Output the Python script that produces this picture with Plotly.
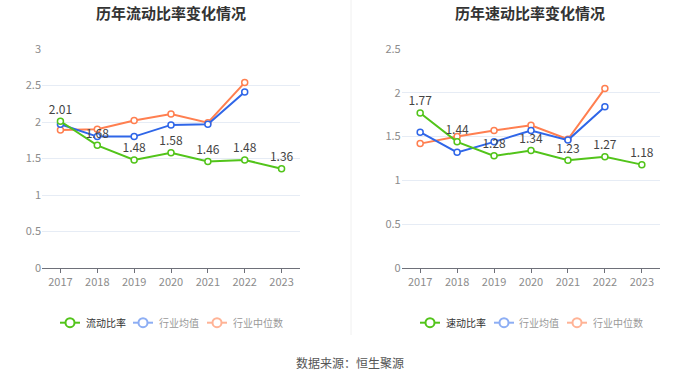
import plotly.graph_objects as go

years = ["2017", "2018", "2019", "2020", "2021", "2022", "2023"]

# 流动比率 chart
current_ratio = [2.01, 1.68, 1.48, 1.58, 1.46, 1.48, 1.36]
current_ind_mean = [1.97, 1.80, 1.80, 1.96, 1.97, 2.41, None]
current_ind_median = [1.89, 1.90, 2.02, 2.11, 1.99, 2.54, None]

# 速动比率 chart
quick_ratio = [1.77, 1.44, 1.28, 1.34, 1.23, 1.27, 1.18]
quick_ind_mean = [1.55, 1.32, 1.44, 1.57, 1.46, 1.84, None]
quick_ind_median = [1.42, 1.50, 1.57, 1.63, 1.47, 2.05, None]

titles = ["历年流动比率变化情况", "历年速动比率变化情况"]
legend_names_left = ["流动比率", "行业均值", "行业中位数"]
legend_names_right = ["速动比率", "行业均值", "行业中位数"]
source_text = "数据来源：恒生聚源"

GREEN = "#52C41A"
BLUE = "#2F66E8"
ORANGE = "#FF7F50"
FONT = "Noto Sans CJK SC"
W, H = 700, 378


def px(x):
    return x / W


def py(y):
    return 1 - y / H


fig = go.Figure()


def add_series(xa, ya, vals, color, labels=False):
    fig.add_trace(go.Scatter(
        x=years, y=vals, xaxis=xa, yaxis=ya,
        mode="lines+markers+text" if labels else "lines+markers",
        line=dict(color=color, width=2),
        marker=dict(symbol="circle", size=6, color="white",
                    line=dict(color=color, width=1.5)),
        text=[f"{v:.2f}" for v in vals] if labels else None,
        textposition="top center",
        textfont=dict(family=FONT, size=12, color="#444444"),
        showlegend=False, hoverinfo="skip", cliponaxis=False,
    ))


add_series("x", "y", current_ind_median, ORANGE)
add_series("x", "y", current_ind_mean, BLUE)
add_series("x", "y", current_ratio, GREEN, labels=True)
add_series("x2", "y2", quick_ind_median, ORANGE)
add_series("x2", "y2", quick_ind_mean, BLUE)
add_series("x2", "y2", quick_ratio, GREEN, labels=True)

axis_x = dict(type="category", range=[-0.5, 6.5], showgrid=False,
              showline=True, linecolor="#6E7079", linewidth=1,
              ticks="outside", ticklen=4, tickcolor="#6E7079",
              tickfont=dict(family=FONT, size=11, color="#8c8c8c"),
              zeroline=False, fixedrange=True, automargin=False)
axis_y = dict(showgrid=True, gridcolor="#E6ECF5", gridwidth=1,
              zeroline=False, showline=False, dtick=0.5,
              ticks="", ticklen=0,
              tickfont=dict(family=FONT, size=11, color="#8c8c8c"),
              fixedrange=True, automargin=False)

fig.update_layout(
    width=W, height=H, autosize=False,
    margin=dict(l=0, r=0, t=0, b=0, pad=0, autoexpand=False),
    paper_bgcolor="white", plot_bgcolor="white",
    showlegend=False,
    xaxis=dict(axis_x, domain=[px(42), px(300)], anchor="y"),
    yaxis=dict(axis_y, domain=[py(268), py(49)], range=[0, 3], anchor="x"),
    xaxis2=dict(axis_x, domain=[px(401.7), px(660.3)], anchor="y2"),
    yaxis2=dict(axis_y, domain=[py(268), py(49)], range=[0, 2.5], anchor="x2"),
)

annotations = []
shapes = []

# titles
for t, cx in zip(titles, [171, 530]):
    annotations.append(dict(text=t, x=px(cx), y=py(12), xref="paper", yref="paper",
                            xanchor="center", yanchor="middle", showarrow=False,
                            font=dict(family=FONT, size=15, color="#333333", weight="bold")))

# footer
annotations.append(dict(text=source_text, x=px(350), y=py(362), xref="paper", yref="paper",
                        xanchor="center", yanchor="middle", showarrow=False,
                        font=dict(family=FONT, size=12, color="#555555")))

# divider
shapes.append(dict(type="line", xref="paper", yref="paper",
                   x0=px(351), x1=px(351), y0=py(0), y1=py(335),
                   line=dict(color="#F0F0F0", width=1)))

# legends (drawn manually)
legend_y = 322.7
sym_colors = [GREEN, "#8DAEF4", "#FFB396"]
txt_colors = ["#333333", "#999999", "#999999"]
left_items = [(60, 85), (133, 158), (207, 232)]
right_items = [(420, 445), (494, 518), (567, 592)]
for names, items in [(legend_names_left, left_items), (legend_names_right, right_items)]:
    for name, (sx, tx), sc, tc in zip(names, items, sym_colors, txt_colors):
        shapes.append(dict(type="line", xref="paper", yref="paper",
                           x0=px(sx), x1=px(sx + 20), y0=py(legend_y), y1=py(legend_y),
                           line=dict(color=sc, width=2)))
        shapes.append(dict(type="circle", xref="paper", yref="paper",
                           xsizemode="pixel", ysizemode="pixel",
                           xanchor=px(sx + 10), yanchor=py(legend_y),
                           x0=-4.5, x1=4.5, y0=-4.5, y1=4.5,
                           fillcolor="white", line=dict(color=sc, width=2)))
        annotations.append(dict(text=name, x=px(tx - 1), y=py(legend_y), xref="paper", yref="paper",
                                xanchor="left", yanchor="middle", showarrow=False,
                                font=dict(family=FONT, size=10, color=tc)))

fig.update_layout(annotations=annotations, shapes=shapes)

fig.write_html(
    "out.html",
    config={"responsive": False, "displayModeBar": False},
    post_script="document.body.style.margin='0';document.body.style.padding='0';document.documentElement.style.overflow='hidden';",
)
